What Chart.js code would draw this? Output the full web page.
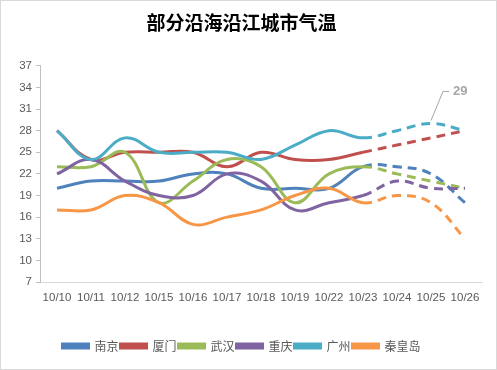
<!DOCTYPE html>
<html>
<head>
<meta charset="utf-8">
<script src="https://cdn.jsdelivr.net/npm/chart.js@4.4.0/dist/chart.umd.min.js"></script>
<style>
  html, body { margin: 0; padding: 0; background: #fff; }
  #wrap { width: 495px; height: 368px; border: 1px solid #d9d9d9; position: relative; }
  canvas { display: block; }
</style>
</head>
<body>
<div id="wrap"><canvas id="myChart" width="495" height="368"></canvas></div>
<script>
var dates = ['10/10', '10/11', '10/12', '10/15', '10/16', '10/17', '10/18', '10/19', '10/22', '10/23', '10/24', '10/25', '10/26'];
var cities = ['南京', '厦门', '武汉', '重庆', '广州', '秦皇岛'];
var nanjing   = [20, 21, 21, 21, 22, 22, 20, 20, 20, 23, 23, 22, 18];
var xiamen    = [28, 24, 25, 25, 25, 23, 25, 24, 24, 25, 26, 27, 28];
var wuhan     = [23, 23, 25, 18, 21, 24, 23, 18, 22, 23, 22, 21, 20];
var chongqing = [22, 24, 21, 19, 19, 22, 21, 17, 18, 19, 21, 20, 20];
var guangzhou = [28, 24, 27, 25, 25, 25, 24, 26, 28, 27, 28, 29, 28];
var qhd       = [17, 17, 19, 18, 15, 16, 17, 19, 20, 18, 19, 18, 13];
var yTicks = [7, 10, 13, 16, 19, 22, 25, 28, 31, 34, 37];
var colors = ['#4F81BD', '#C0504D', '#9BBB59', '#8064A2', '#4BACC6', '#F79646'];
var forecastFrom = 9; // 10/23 以后是预报，画虚线
var labelPoint = { series: 4, index: 11 };

var allData = [nanjing, xiamen, wuhan, chongqing, guangzhou, qhd];

var datasets = cities.map(function(name, i) {
    return {
        label: name,
        data: allData[i],
        order: cities.length - i, // 后面的系列画在上面
        borderColor: colors[i],
        backgroundColor: colors[i],
        borderWidth: 3,
        pointRadius: 0,
        pointHoverRadius: 0,
        tension: 0.4,
        fill: false,
        segment: {
            borderDash: function(ctx) {
                return ctx.p0DataIndex >= forecastFrom ? [9, 6] : undefined;
            }
        }
    };
});

// 数据标签 "29" 和引导线
var labelPlugin = {
    id: 'labelPlugin',
    afterDatasetsDraw: function(chart) {
        var c = chart.ctx;
        var xs = chart.scales.x, ys = chart.scales.y;
        var v = allData[labelPoint.series][labelPoint.index];
        var px = xs.getPixelForValue(labelPoint.index);
        var py = ys.getPixelForValue(v);
        c.save();
        c.strokeStyle = '#a6a6a6';
        c.lineWidth = 1;
        c.beginPath();
        c.moveTo(px, py - 3);
        c.lineTo(px + 12, py - 32);
        c.lineTo(px + 18, py - 32);
        c.stroke();
        c.fillStyle = '#a6a6a6';
        c.font = 'bold 13px "Liberation Sans", Arial, sans-serif';
        c.textBaseline = 'middle';
        c.fillText(String(v), px + 22, py - 32);
        c.restore();
    }
};

var ctx = document.getElementById('myChart').getContext('2d');
var chart = new Chart(ctx, {
    type: 'line',
    data: { labels: dates, datasets: datasets },
    plugins: [labelPlugin],
    options: {
        responsive: false,
        animation: false,
        layout: { padding: { left: 0, right: 14, top: 10, bottom: 7 } },
        plugins: {
            title: {
                display: true,
                text: '部分沿海沿江城市气温',
                color: '#000',
                font: { family: '"Noto Sans CJK SC", sans-serif', size: 19, weight: 'bold' },
                padding: { top: 0, bottom: 32 }
            },
            legend: {
                position: 'bottom',
                labels: {
                    boxWidth: 26,
                    boxHeight: 4,
                    padding: 2,
                    color: '#595959',
                    font: { family: '"Noto Sans CJK SC", sans-serif', size: 12 },
                    sort: function(a, b) { return a.datasetIndex - b.datasetIndex; }
                }
            },
            tooltip: { enabled: false }
        },
        scales: {
            x: {
                offset: true,
                grid: { display: false, drawTicks: false },
                border: { color: '#d9d9d9', width: 1 },
                ticks: {
                    color: '#595959',
                    font: { family: '"Liberation Sans", Arial, sans-serif', size: 11.5 },
                    maxRotation: 0,
                    autoSkip: false,
                    padding: 9
                },
                afterFit: function(scale) { scale.height = 56; }
            },
            y: {
                min: 7,
                max: 37,
                afterBuildTicks: function(scale) {
                    scale.ticks = yTicks.map(function(t) { return { value: t }; });
                },
                grid: { drawOnChartArea: false, drawTicks: true, tickLength: 4, color: '#bfbfbf' },
                border: { color: '#bfbfbf', width: 1 },
                ticks: {
                    color: '#595959',
                    font: { family: '"Liberation Sans", Arial, sans-serif', size: 11.5 },
                    padding: 4
                },
                afterFit: function(scale) { scale.width = 39; }
            }
        }
    }
});
</script>
</body>
</html>
